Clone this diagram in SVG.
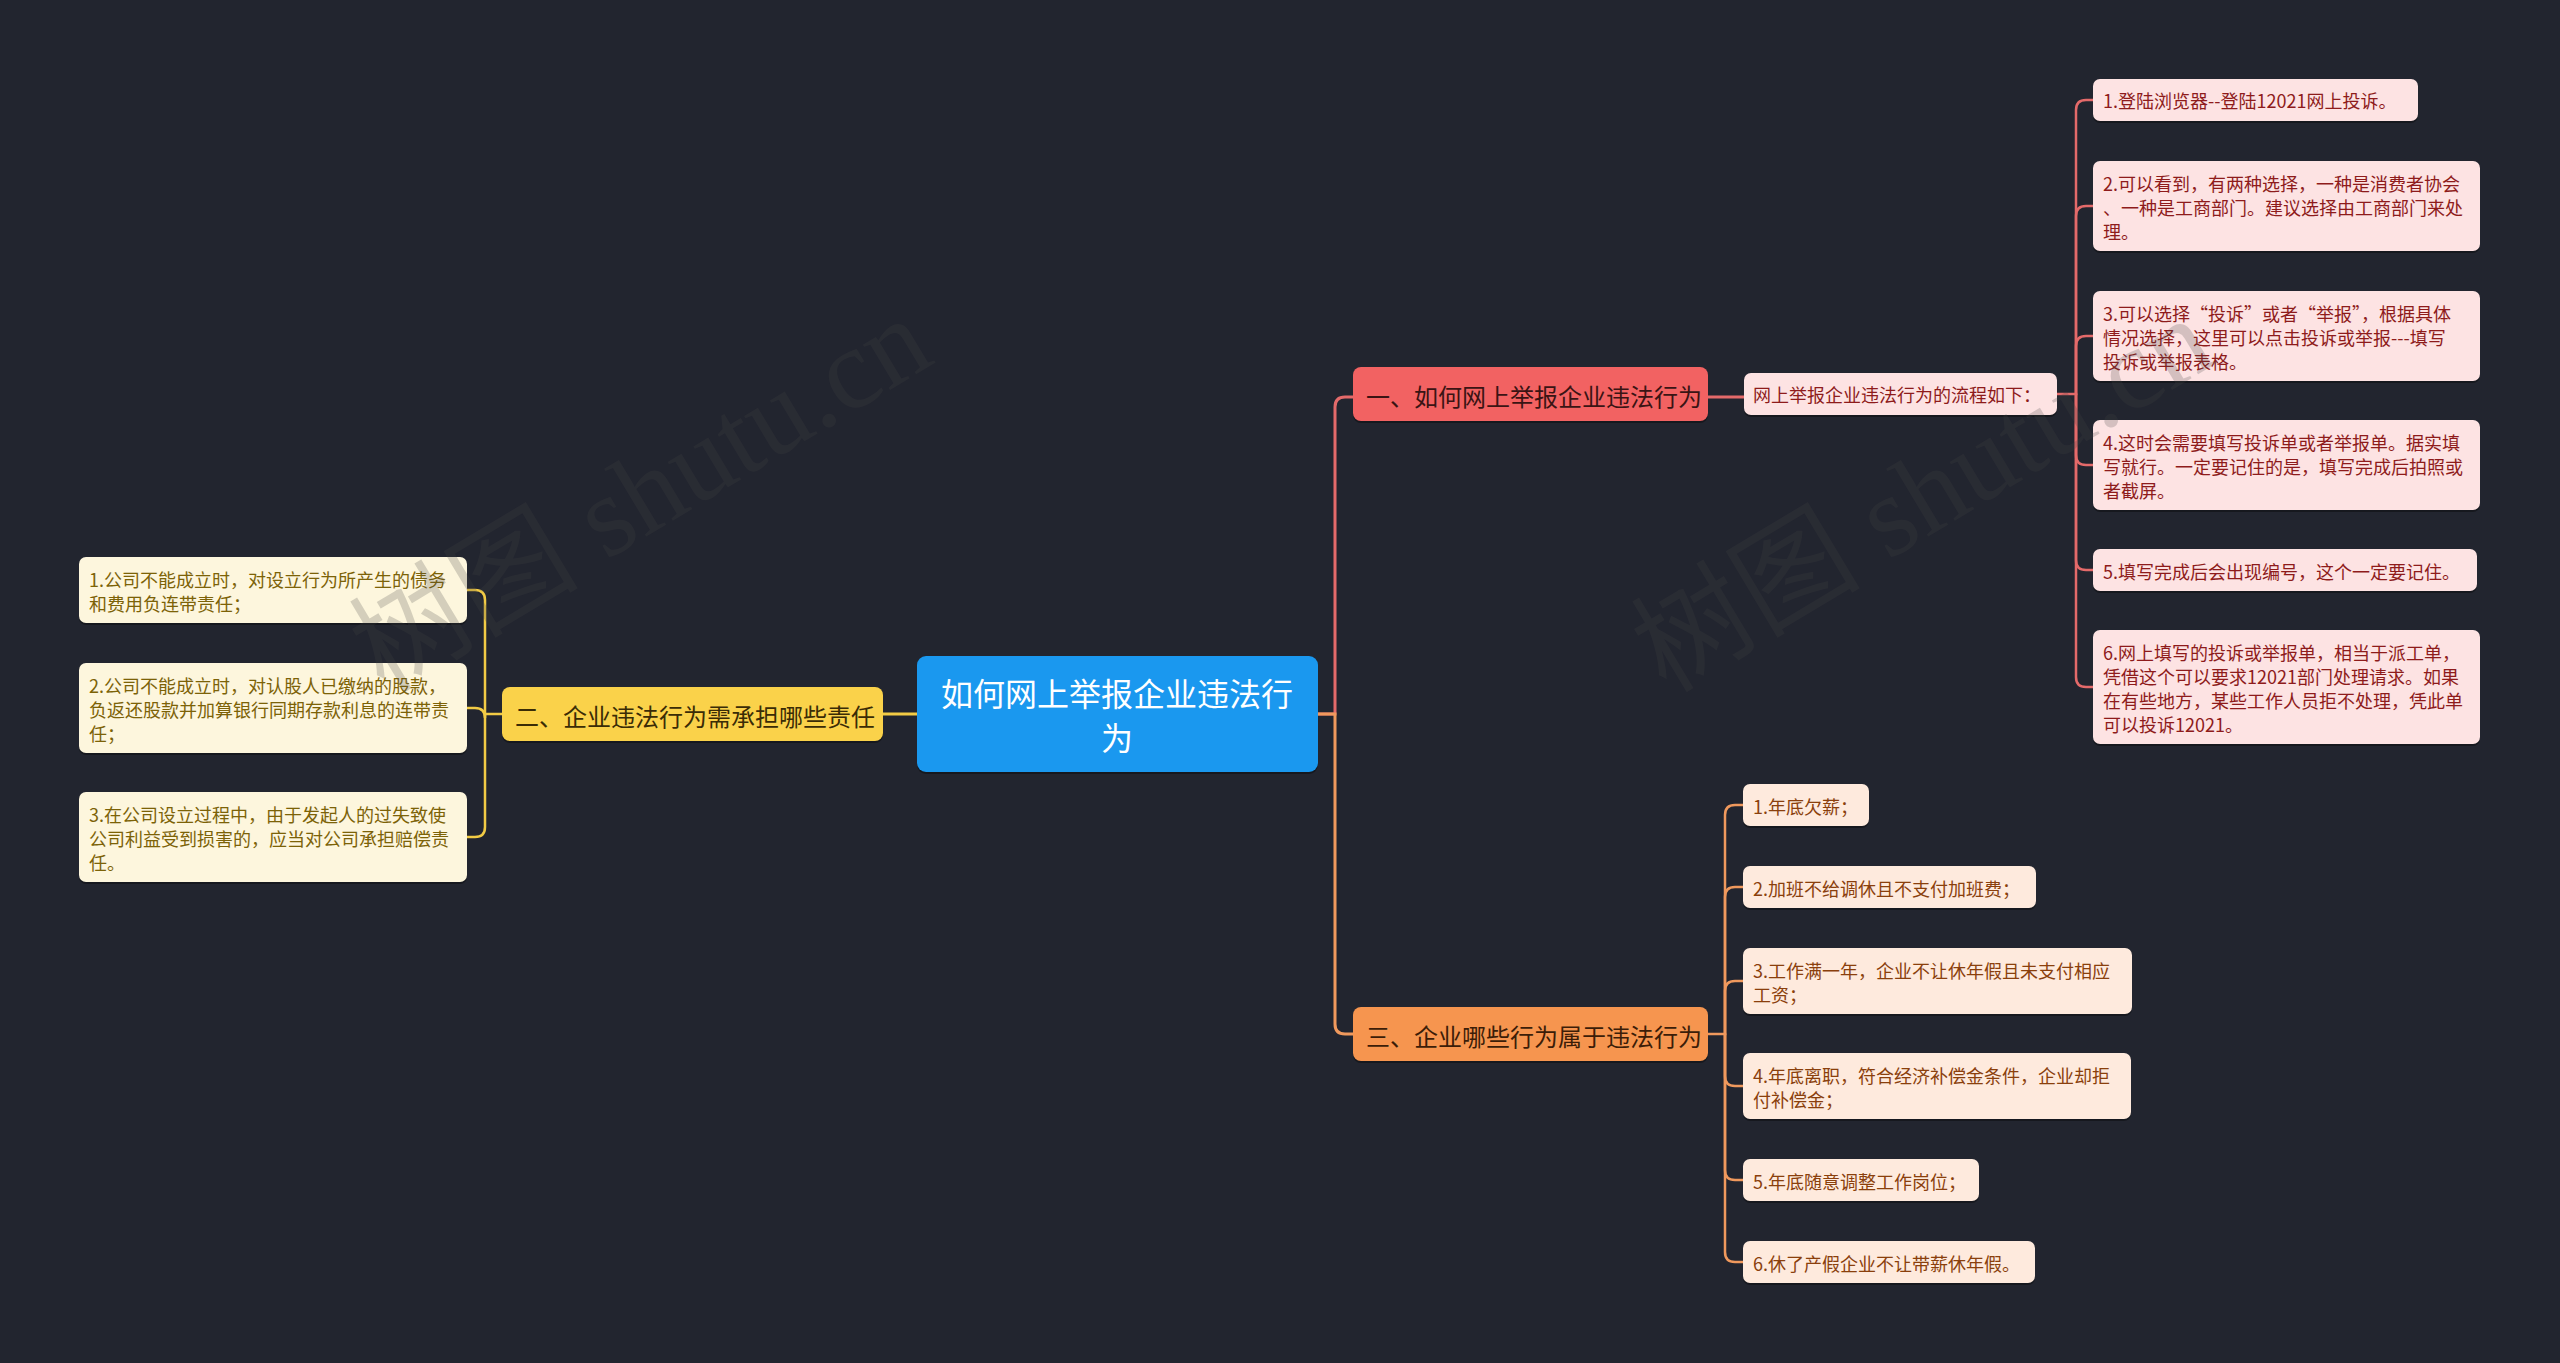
<svg xmlns="http://www.w3.org/2000/svg" width="2560" height="1363" viewBox="0 0 2560 1363">
<defs>
<style>
text{font-family:"Noto Sans CJK SC","Noto Sans",sans-serif;dominant-baseline:central}
.c{fill:none;stroke-linecap:round}
.cr{stroke:#e46a6a;stroke-width:3}
.cy{stroke:#f2cb45;stroke-width:3}
.co{stroke:#f0995d;stroke-width:3}
.sh{fill:#000;opacity:.35}
.rootb{fill:#1a98ef}
.roott{fill:#ffffff;font-size:32px;text-anchor:middle}
.rb{fill:#f26262}
.yb{fill:#fad24a}
.ob{fill:#f6954f}
.bt{font-size:24px}
.rbt{fill:#3a1414}
.ybt{fill:#3a2c06}
.obt{fill:#3c1d08}
.rl{fill:#fde3e3}
.yl{fill:#fdf6dd}
.ol{fill:#feeadd}
.lt{font-size:18px}
.rlt{fill:#8e1b1b}
.ylt{fill:#7c6207}
.olt{fill:#8a3f0c}
.wm{font-size:115px;fill:#454545;opacity:.22;font-family:"Liberation Serif","Noto Sans CJK SC",serif;dominant-baseline:auto}
</style>
</defs>
<rect width="2560" height="1363" fill="#22252f"/>

<g id="connectors">
<path class="c cy" d="M882 714 H917"/>
<path class="c cr" d="M1318 714 H1335 V407 Q1335 397 1345 397 H1353"/>
<path class="c co" d="M1318 714 H1335 V1024 Q1335 1034 1345 1034 H1353"/>
<path class="c cr" d="M1708 397 H1744"/>
<g class="c cr" style="stroke-width:2.5">
<path d="M2057 394 H2076 V110 Q2076 100 2086 100 H2093"/>
<path d="M2076 394 V216 Q2076 206 2086 206 H2093"/>
<path d="M2076 394 V346 Q2076 336 2086 336 H2093"/>
<path d="M2076 394 V455 Q2076 465 2086 465 H2093"/>
<path d="M2076 394 V560 Q2076 570 2086 570 H2093"/>
<path d="M2076 394 V677 Q2076 687 2086 687 H2093"/>
</g>
<g class="c cy" style="stroke-width:2.5">
<path d="M502 714 H485 V600 Q485 590 475 590 H467"/>
<path d="M485 714 V718 Q485 708 475 708 H467"/>
<path d="M485 714 V827 Q485 837 475 837 H467"/>
</g>
<g class="c co" style="stroke-width:2.5">
<path d="M1708 1034 H1725 V815 Q1725 805 1735 805 H1743"/>
<path d="M1725 1034 V897 Q1725 887 1735 887 H1743"/>
<path d="M1725 1034 V991 Q1725 981 1735 981 H1743"/>
<path d="M1725 1034 V1076 Q1725 1086 1735 1086 H1743"/>
<path d="M1725 1034 V1170 Q1725 1180 1735 1180 H1743"/>
<path d="M1725 1034 V1252 Q1725 1262 1735 1262 H1743"/>
</g>
</g>

<g id="root">
<rect class="sh" x="917" y="658" width="401" height="116" rx="9"/>
<rect class="rootb" x="917" y="656" width="401" height="116" rx="9"/>
<text class="roott" x="1117" y="692">如何网上举报企业违法行</text>
<text class="roott" x="1117" y="736">为</text>
</g>

<g id="branch1">
<rect class="sh" x="1353" y="369" width="355" height="54" rx="8"/>
<rect class="rb" x="1353" y="367" width="355" height="54" rx="8"/>
<text class="bt rbt" x="1366" y="395">一、如何网上举报企业违法行为</text>
</g>
<g id="branch1-sub">
<rect class="sh" x="1744" y="375" width="313" height="42" rx="7"/>
<rect class="rl" x="1744" y="373" width="313" height="42" rx="7"/>
<text class="lt rlt" x="1753" y="394">网上举报企业违法行为的流程如下：</text>
</g>

<g id="r1">
<rect class="sh" x="2093" y="81" width="325" height="42" rx="7"/>
<rect class="rl" x="2093" y="79" width="325" height="42" rx="7"/>
<text class="lt rlt" x="2103" y="100">1.登陆浏览器--登陆12021网上投诉。</text>
</g>
<g id="r2">
<rect class="sh" x="2093" y="163" width="387" height="90" rx="7"/>
<rect class="rl" x="2093" y="161" width="387" height="90" rx="7"/>
<text class="lt rlt" x="2103" y="183">2.可以看到，有两种选择，一种是消费者协会</text>
<text class="lt rlt" x="2103" y="207">、一种是工商部门。建议选择由工商部门来处</text>
<text class="lt rlt" x="2103" y="231">理。</text>
</g>
<g id="r3">
<rect class="sh" x="2093" y="293" width="387" height="90" rx="7"/>
<rect class="rl" x="2093" y="291" width="387" height="90" rx="7"/>
<text class="lt rlt" x="2103" y="313">3.可以选择“投诉”或者“举报”，根据具体</text>
<text class="lt rlt" x="2103" y="337">情况选择，这里可以点击投诉或举报---填写</text>
<text class="lt rlt" x="2103" y="361">投诉或举报表格。</text>
</g>
<g id="r4">
<rect class="sh" x="2093" y="422" width="387" height="90" rx="7"/>
<rect class="rl" x="2093" y="420" width="387" height="90" rx="7"/>
<text class="lt rlt" x="2103" y="442">4.这时会需要填写投诉单或者举报单。据实填</text>
<text class="lt rlt" x="2103" y="466">写就行。一定要记住的是，填写完成后拍照或</text>
<text class="lt rlt" x="2103" y="490">者截屏。</text>
</g>
<g id="r5">
<rect class="sh" x="2093" y="551" width="384" height="42" rx="7"/>
<rect class="rl" x="2093" y="549" width="384" height="42" rx="7"/>
<text class="lt rlt" x="2103" y="571">5.填写完成后会出现编号，这个一定要记住。</text>
</g>
<g id="r6">
<rect class="sh" x="2093" y="632" width="387" height="114" rx="7"/>
<rect class="rl" x="2093" y="630" width="387" height="114" rx="7"/>
<text class="lt rlt" x="2103" y="652">6.网上填写的投诉或举报单，相当于派工单，</text>
<text class="lt rlt" x="2103" y="676">凭借这个可以要求12021部门处理请求。如果</text>
<text class="lt rlt" x="2103" y="700">在有些地方，某些工作人员拒不处理，凭此单</text>
<text class="lt rlt" x="2103" y="724">可以投诉12021。</text>
</g>

<g id="branch2">
<rect class="sh" x="502" y="689" width="381" height="54" rx="8"/>
<rect class="yb" x="502" y="687" width="381" height="54" rx="8"/>
<text class="bt ybt" x="515" y="715">二、企业违法行为需承担哪些责任</text>
</g>
<g id="y1">
<rect class="sh" x="79" y="559" width="388" height="66" rx="7"/>
<rect class="yl" x="79" y="557" width="388" height="66" rx="7"/>
<text class="lt ylt" x="89" y="579">1.公司不能成立时，对设立行为所产生的债务</text>
<text class="lt ylt" x="89" y="603">和费用负连带责任；</text>
</g>
<g id="y2">
<rect class="sh" x="79" y="665" width="388" height="90" rx="7"/>
<rect class="yl" x="79" y="663" width="388" height="90" rx="7"/>
<text class="lt ylt" x="89" y="685">2.公司不能成立时，对认股人已缴纳的股款，</text>
<text class="lt ylt" x="89" y="709">负返还股款并加算银行同期存款利息的连带责</text>
<text class="lt ylt" x="89" y="733">任；</text>
</g>
<g id="y3">
<rect class="sh" x="79" y="794" width="388" height="90" rx="7"/>
<rect class="yl" x="79" y="792" width="388" height="90" rx="7"/>
<text class="lt ylt" x="89" y="814">3.在公司设立过程中，由于发起人的过失致使</text>
<text class="lt ylt" x="89" y="838">公司利益受到损害的，应当对公司承担赔偿责</text>
<text class="lt ylt" x="89" y="862">任。</text>
</g>

<g id="branch3">
<rect class="sh" x="1353" y="1009" width="355" height="54" rx="8"/>
<rect class="ob" x="1353" y="1007" width="355" height="54" rx="8"/>
<text class="bt obt" x="1366" y="1035">三、企业哪些行为属于违法行为</text>
</g>
<g id="o1">
<rect class="sh" x="1743" y="786" width="126" height="42" rx="7"/>
<rect class="ol" x="1743" y="784" width="126" height="42" rx="7"/>
<text class="lt olt" x="1753" y="806">1.年底欠薪；</text>
</g>
<g id="o2">
<rect class="sh" x="1743" y="868" width="293" height="42" rx="7"/>
<rect class="ol" x="1743" y="866" width="293" height="42" rx="7"/>
<text class="lt olt" x="1753" y="888">2.加班不给调休且不支付加班费；</text>
</g>
<g id="o3">
<rect class="sh" x="1743" y="950" width="389" height="66" rx="7"/>
<rect class="ol" x="1743" y="948" width="389" height="66" rx="7"/>
<text class="lt olt" x="1753" y="970">3.工作满一年，企业不让休年假且未支付相应</text>
<text class="lt olt" x="1753" y="994">工资；</text>
</g>
<g id="o4">
<rect class="sh" x="1743" y="1055" width="388" height="66" rx="7"/>
<rect class="ol" x="1743" y="1053" width="388" height="66" rx="7"/>
<text class="lt olt" x="1753" y="1075">4.年底离职，符合经济补偿金条件，企业却拒</text>
<text class="lt olt" x="1753" y="1099">付补偿金；</text>
</g>
<g id="o5">
<rect class="sh" x="1743" y="1161" width="236" height="42" rx="7"/>
<rect class="ol" x="1743" y="1159" width="236" height="42" rx="7"/>
<text class="lt olt" x="1753" y="1181">5.年底随意调整工作岗位；</text>
</g>
<g id="o6">
<rect class="sh" x="1743" y="1243" width="292" height="42" rx="7"/>
<rect class="ol" x="1743" y="1241" width="292" height="42" rx="7"/>
<text class="lt olt" x="1753" y="1263">6.休了产假企业不让带薪休年假。</text>
</g>

<g id="watermark">
<text class="wm" x="384" y="694" transform="rotate(-31 384 694)">树图 shutu.cn</text>
<text class="wm" x="1666" y="694" transform="rotate(-31 1666 694)">树图 shutu.cn</text>
</g>
</svg>
